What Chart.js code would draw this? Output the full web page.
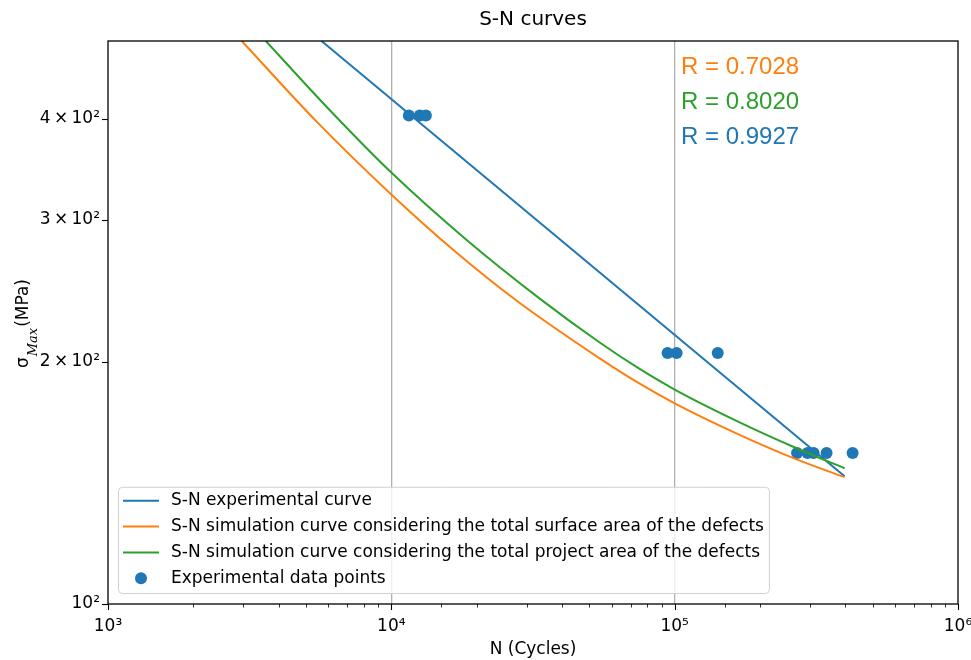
<!DOCTYPE html>
<html>
<head>
<meta charset="utf-8">
<title>S-N curves</title>
<script src="https://cdn.jsdelivr.net/npm/chart.js@4.4.1/dist/chart.umd.min.js"></script>
<style>
  html, body { margin: 0; padding: 0; background: #fff; }
  #wrap { width: 971px; height: 660px; }
</style>
</head>
<body>
<div id="wrap"><canvas id="snChart"></canvas></div>
<script>
// values (N in cycles, stress in MPa)
const expCurveN = [5670, 397800];
const expCurveS = [500, 144.1];
const surfCurveN = [2965, 5461, 10020, 16640, 27640, 54380, 75250, 100000, 169500, 269400, 397800];
const surfCurveS = [500, 396.8, 322.2, 274.7, 238.1, 201.8, 187.7, 177.5, 162.2, 151.2, 143.7];
const projCurveN = [3606, 6067, 10020, 18310, 33400, 54380, 75250, 100000, 169500, 269400, 397800];
const projCurveS = [500, 410.2, 343.0, 283.7, 239.4, 211.2, 195.8, 184.6, 168.1, 156.1, 147.4];
const pointsN = [11530, 12600, 13240, 94400, 101600, 141900, 270400, 294400, 309300, 343700, 424600];
const pointsS = [404, 404, 404, 205, 205, 205, 154, 154, 154, 154, 154];

const xTickVals = [1e3, 1e4, 1e5, 1e6];
const xTickLabels = ['10³', '10⁴', '10⁵', '10⁶'];
const yTickVals = [100, 200, 300, 400];
const yTickLabels = ['10²', '2\u2009×\u200910²', '3\u2009×\u200910²', '4\u2009×\u200910²'];

const seriesLabels = [
  'S-N experimental curve',
  'S-N simulation curve considering the total surface area of the defects',
  'S-N simulation curve considering the total project area of the defects',
  'Experimental data points'
];
const rTexts = ['R = 0.7028', 'R = 0.8020', 'R = 0.9927'];

const cBlue = '#1f77b4';
const cOrange = '#ff7f0e';
const cGreen = '#2ca02c';
const rColors = [cOrange, cGreen, cBlue];

const sansFont = '"DejaVu Sans", sans-serif';

function toXY(xs, ys) {
  return xs.map((x, i) => ({ x: x, y: ys[i] }));
}

function isDecade(v) {
  const l = Math.log10(v);
  return Math.abs(l - Math.round(l)) < 1e-9;
}

function findTick(list, v) {
  for (let i = 0; i < list.length; i++) {
    if (Math.abs(list[i] - v) / list[i] < 1e-9) return i;
  }
  return -1;
}

// ticks, frame, title, y label, R values and legend
const decorPlugin = {
  id: 'decor',
  afterDraw(chart) {
    const ctx = chart.ctx;
    const a = chart.chartArea;
    const x = chart.scales.x;
    const y = chart.scales.y;
    ctx.save();

    // tick marks
    ctx.strokeStyle = '#000';
    x.ticks.forEach(t => {
      const px = Math.round(x.getPixelForValue(t.value)) + 0.5;
      const major = isDecade(t.value);
      ctx.lineWidth = major ? 1.1 : 0.8;
      ctx.beginPath();
      ctx.moveTo(px, a.bottom);
      ctx.lineTo(px, a.bottom + (major ? 6 : 3.5));
      ctx.stroke();
    });
    yTickVals.forEach(v => {
      const py = Math.round(y.getPixelForValue(v)) + 0.5;
      ctx.lineWidth = 1.1;
      ctx.beginPath();
      ctx.moveTo(a.left, py);
      ctx.lineTo(a.left - 6, py);
      ctx.stroke();
    });

    // axes frame
    ctx.lineWidth = 1.3;
    ctx.strokeStyle = '#000';
    ctx.strokeRect(a.left, a.top, a.right - a.left, a.bottom - a.top);

    // title
    ctx.fillStyle = '#000';
    ctx.font = '20px ' + sansFont;
    ctx.textAlign = 'center';
    ctx.textBaseline = 'middle';
    ctx.fillText('S-N curves', (a.left + a.right) / 2, 20);

    // y axis label: sigma with subscript Max
    ctx.save();
    ctx.translate(0, 368);
    ctx.rotate(-Math.PI / 2);
    ctx.textAlign = 'left';
    ctx.textBaseline = 'alphabetic';
    const fMain = '17px ' + sansFont;
    const fSub = 'italic 13px "DejaVu Serif", serif';
    let cx = 0;
    ctx.font = fMain;
    ctx.fillText('σ', cx, 28);
    cx += ctx.measureText('σ').width + 1;
    ctx.font = fSub;
    ctx.fillText('Max', cx, 37);
    cx += ctx.measureText('Max').width + 1;
    ctx.font = fMain;
    ctx.fillText('(MPa)', cx, 28);
    ctx.restore();

    // correlation values
    ctx.font = '24px "Liberation Sans", Arial, sans-serif';
    ctx.textAlign = 'left';
    ctx.textBaseline = 'middle';
    rTexts.forEach((t, i) => {
      ctx.fillStyle = rColors[i];
      ctx.fillText(t, 681, 67 + i * 35);
    });

    // legend box
    const ds = chart.data.datasets;
    ctx.font = '17px ' + sansFont;
    let maxW = 0;
    ds.forEach(d => { maxW = Math.max(maxW, ctx.measureText(d.label).width); });
    const lx = a.left + 10;
    const lw = 53 + maxW + 5;
    const rowH = 25.8;
    const lh = rowH * ds.length + 3;
    const ly = a.bottom - 11 - lh;
    ctx.beginPath();
    ctx.roundRect(lx + 0.5, ly + 0.5, lw, lh, 4);
    ctx.fillStyle = 'rgba(255,255,255,0.8)';
    ctx.fill();
    ctx.strokeStyle = '#d0d0d0';
    ctx.lineWidth = 1;
    ctx.stroke();
    ds.forEach((d, i) => {
      const ry = ly + 14 + i * rowH;
      if (d.showLine) {
        ctx.strokeStyle = d.borderColor;
        ctx.lineWidth = 2;
        ctx.beginPath();
        ctx.moveTo(lx + 5, ry);
        ctx.lineTo(lx + 41, ry);
        ctx.stroke();
      } else {
        ctx.fillStyle = d.pointBackgroundColor;
        ctx.beginPath();
        ctx.arc(lx + 23, ry, 6, 0, Math.PI * 2);
        ctx.fill();
      }
      ctx.fillStyle = '#000';
      ctx.textAlign = 'left';
      ctx.textBaseline = 'middle';
      ctx.fillText(d.label, lx + 53, ry);
    });

    ctx.restore();
  }
};

const ctx = document.getElementById('snChart').getContext('2d');
const snChart = new Chart(ctx, {
  type: 'scatter',
  data: {
    datasets: [
      {
        label: seriesLabels[0],
        data: toXY(expCurveN, expCurveS),
        showLine: true,
        borderColor: cBlue,
        borderWidth: 2,
        pointRadius: 0,
        order: 3
      },
      {
        label: seriesLabels[1],
        data: toXY(surfCurveN, surfCurveS),
        showLine: true,
        borderColor: cOrange,
        borderWidth: 2,
        pointRadius: 0,
        cubicInterpolationMode: 'monotone',
        order: 2
      },
      {
        label: seriesLabels[2],
        data: toXY(projCurveN, projCurveS),
        showLine: true,
        borderColor: cGreen,
        borderWidth: 2,
        pointRadius: 0,
        cubicInterpolationMode: 'monotone',
        order: 1
      },
      {
        label: seriesLabels[3],
        data: toXY(pointsN, pointsS),
        showLine: false,
        pointRadius: 6,
        pointBackgroundColor: cBlue,
        pointBorderWidth: 0,
        pointBorderColor: cBlue,
        order: 4
      }
    ]
  },
  options: {
    responsive: true,
    maintainAspectRatio: false,
    animation: false,
    layout: { padding: { top: 41, right: 13, bottom: 0, left: 0 } },
    plugins: {
      legend: { display: false },
      tooltip: { enabled: false },
      title: { display: false }
    },
    scales: {
      x: {
        type: 'logarithmic',
        min: 1e3,
        max: 1e6,
        afterFit: s => { s.height = 56; s.paddingRight = 0; s.paddingLeft = 0; },
        border: { display: false },
        grid: {
          drawTicks: false,
          lineWidth: 1.3,
          color: c => (c.tick && (findTick([1e4, 1e5], c.tick.value) >= 0)) ? '#b0b0b0' : 'rgba(0,0,0,0)'
        },
        ticks: {
          autoSkip: false,
          maxRotation: 0,
          padding: 12,
          color: '#000',
          font: { family: sansFont, size: 17 },
          callback: v => {
            const i = findTick(xTickVals, v);
            return i >= 0 ? xTickLabels[i] : '';
          }
        },
        title: {
          display: true,
          text: 'N (Cycles)',
          color: '#000',
          font: { family: sansFont, size: 17 },
          padding: { top: 0, bottom: 0 }
        }
      },
      y: {
        type: 'logarithmic',
        min: 100,
        max: 500,
        afterFit: s => { s.width = 108; },
        border: { display: false },
        grid: { display: false, drawTicks: false },
        ticks: {
          autoSkip: false,
          padding: 8,
          color: '#000',
          font: { family: sansFont, size: 17 },
          callback: v => {
            const i = findTick(yTickVals, v);
            return i >= 0 ? yTickLabels[i] : '';
          }
        }
      }
    }
  },
  plugins: [decorPlugin]
});
</script>
</body>
</html>
